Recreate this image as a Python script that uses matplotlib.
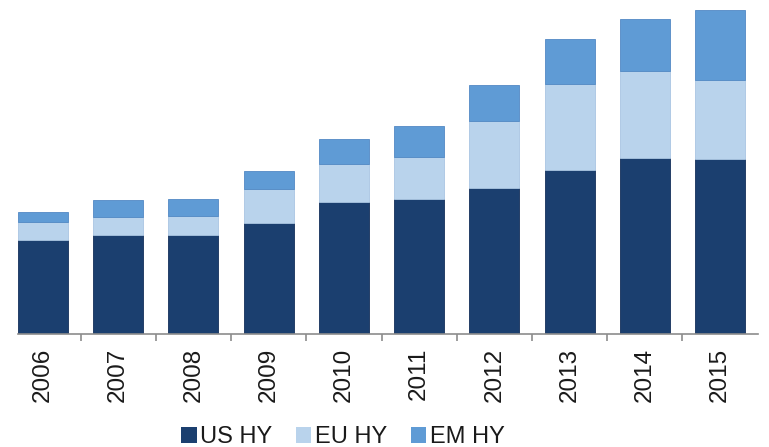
import matplotlib
matplotlib.use("Agg")
import matplotlib.pyplot as plt
from matplotlib.patches import Patch
import numpy as np

years = ["2006", "2007", "2008", "2009", "2010", "2011", "2012", "2013", "2014", "2015"]
us_hy = [94, 99, 99, 111, 132, 135, 146, 164, 176, 175]
eu_hy = [18, 18, 19, 34, 38, 42, 67, 86, 87, 79]
em_hy = [10, 17, 17, 18, 25, 31, 36, 45, 52, 70]
series_names = ["US HY", "EU HY", "EM HY"]
colors = ["#1b3f6f", "#b9d3ec", "#5f9bd5"]
edges = ["#14305a", "#a9c5e2", "#5289c4"]

plt.rcParams['font.family'] = ['Liberation Sans', 'DejaVu Sans']

fig = plt.figure(figsize=(7.69, 4.47), dpi=100)
ax = fig.add_axes([5.4/769, 113/447, (757.6-5.4)/769, 334/447])

x = np.arange(len(years))
bottom = np.zeros(len(years))
for vals, c, ec in zip([us_hy, eu_hy, em_hy], colors, edges):
    ax.bar(x, vals, width=0.665, bottom=bottom, color=c, edgecolor=ec, linewidth=0.6)
    bottom += np.array(vals)

ax.set_xlim(-0.5, len(years) - 0.5)
ax.set_ylim(0, 334)
for s in ["top", "right", "left"]:
    ax.spines[s].set_visible(False)
ax.spines["bottom"].set_color("#8c8c8c")
ax.spines["bottom"].set_linewidth(1.2)
ax.spines["bottom"].set_bounds(-0.33, len(years) - 0.5)
ax.set_yticks([])
ax.set_xticks(x)
ax.set_xticklabels(years, rotation=90, fontsize=17.5, color="#1a1a1a")
ax.tick_params(axis="x", which="major", length=0, pad=10)
ax.set_xticks(np.arange(0.5, len(years) - 0.5, 1), minor=True)
ax.tick_params(axis="x", which="minor", length=5, color="#8c8c8c", width=1.2)

handles = [Patch(facecolor=c, edgecolor="none") for c in colors]
fig.legend(handles, series_names, loc="center", bbox_to_anchor=(343/769, 1 - 437/447),
           ncol=3, frameon=False, fontsize=17, handlelength=0.65, handleheight=0.65,
           handletextpad=0.15, columnspacing=1.0, labelcolor="#1a1a1a")

fig.savefig("out.png", dpi=100)
